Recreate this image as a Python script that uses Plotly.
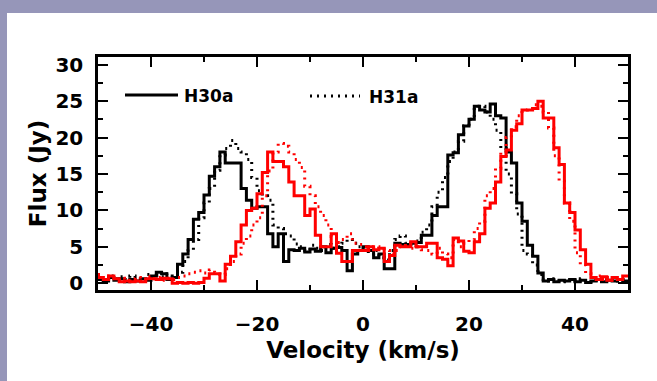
import numpy as np
import plotly.graph_objects as go

# Bin left edges (km/s), 1 km/s channels from -50 to 49
vel_edges = list(range(-50, 50))

h30_black = [0.5, 0.3, 0.8, 0.4, 0.6, 0.2, 0.5, 0.3, 0.6, 0.4,
             1.0, 1.5, 1.3, 0.5, 0.8, 2.6, 4.0, 6.0, 8.8, 9.7,
             12.1, 14.7, 16.0, 18.0, 16.5, 16.5, 16.5, 13.0, 11.4, 10.3,
             10.5, 10.5, 6.8, 5.0, 6.8, 3.0, 4.6, 4.5, 4.8, 4.3,
             4.7, 4.4, 5.0, 4.2, 4.8, 4.9, 4.5, 1.7, 4.0, 4.5,
             5.0, 4.5, 3.5, 4.0, 2.0, 2.0, 5.5, 5.3, 5.3, 5.5,
             5.6, 6.6, 6.6, 9.3, 10.5, 10.5, 17.6, 17.9, 20.4, 21.6,
             22.5, 24.3, 23.8, 23.5, 24.6, 23.0, 22.7, 18.0, 16.5, 11.0,
             8.5, 5.2, 3.7, 1.4, 0.3, 0.5, 0.2, 0.4, 0.3, 0.5,
             0.2, 0.4, 0.1, 0.3, 0.5, 0.2, 0.4, 0.3, 0.5, 0.3]

h31_black = [0.8, 0.4, 1.0, 0.6, 0.9, 0.5, 1.0, 0.7, 0.5, 1.2,
             0.8, 1.1, 0.9, 1.3, 1.0, 1.5, 3.0, 4.5, 6.0, 9.0,
             11.0, 13.0, 15.5, 17.6, 18.5, 19.6, 18.5, 18.0, 17.0, 14.5,
             12.7, 12.0, 11.4, 8.0, 7.5, 6.8, 6.5, 5.4, 5.0, 4.5,
             5.2, 4.8, 4.5, 5.3, 4.8, 5.0, 5.5, 6.0, 5.5, 5.0,
             4.6, 4.0, 4.5, 3.5, 3.2, 4.5, 6.0, 6.5, 5.5, 5.0,
             5.8, 7.0, 8.0, 10.5, 12.5, 14.5, 16.7, 18.0, 19.5, 21.6,
             22.5, 24.3, 24.3, 23.5, 22.5, 21.0, 18.5, 15.0, 12.3, 9.5,
             4.5, 4.0, 2.5, 1.2, 0.5, 0.3, 0.6, 0.2, 0.5, 0.4,
             0.3, 0.6, 0.2, 0.4, 0.5, 0.3, 0.6, 0.4, 0.3, 0.5]

h30_red = [0.8, 0.5, 1.0, 0.6, 0.2, 0.3, 0.2, 0.3, 0.2, 0.6,
           0.6, 0.5, 0.7, 0.6, 0.0, 0.1, 0.0, 0.1, 0.0, 0.1,
           0.7, 1.3, 1.3, 0.3, 2.6, 3.7, 5.7, 8.0, 10.0, 10.3,
           12.3, 15.2, 18.0, 16.7, 16.7, 16.0, 13.9, 12.0, 12.0, 9.3,
           10.2, 6.6, 5.0, 5.0, 6.8, 4.1, 3.0, 3.0, 4.5, 4.5,
           4.5, 5.0, 4.6, 4.8, 3.0, 3.8, 5.2, 5.0, 5.0, 5.7,
           5.0, 5.0, 5.5, 5.5, 3.5, 3.3, 2.4, 6.2, 5.8, 4.4,
           4.2, 5.7, 6.8, 10.3, 11.0, 13.9, 17.4, 18.3, 21.0, 21.9,
           23.8, 23.8, 24.0, 25.0, 22.7, 22.7, 18.6, 16.3, 11.0, 9.7,
           7.3, 4.6, 2.6, 0.8, 0.5, 0.9, 0.4, 0.8, 0.5, 1.0]

h31_red = [1.2, 0.8, 1.0, 0.5, 0.7, 0.4, 0.6, 0.8, 0.5, 0.9,
           0.6, 0.8, 0.4, 0.7, 0.5, 0.8, 1.0, 1.3, 1.5, 1.7,
           1.4, 1.8, 1.5, 1.2, 2.0, 3.0, 4.0, 5.5, 6.5, 8.0,
           9.0, 12.0, 15.4, 18.0, 19.2, 18.8, 18.0, 17.0, 15.9, 13.3,
           12.0, 10.5, 9.3, 8.0, 6.4, 5.6, 6.0, 6.8, 5.5, 5.3,
           5.0, 4.5, 5.0, 4.7, 4.5, 4.0, 4.5, 5.0, 5.5, 4.8,
           5.0, 4.6, 4.5, 4.0, 4.8, 4.0, 3.5, 6.0, 5.0, 5.5,
           6.0, 7.5, 8.5, 12.0, 13.0, 15.8, 18.0, 20.0, 21.5, 23.0,
           23.8, 24.0, 24.5, 24.3, 23.5, 21.3, 17.5, 14.0, 11.0, 8.5,
           4.2, 2.5, 1.3, 0.8, 1.0, 0.5, 0.8, 0.4, 0.7, 0.5]

x_ticks = [-40, -20, 0, 20, 40]
y_ticks = [0, 5, 10, 15, 20, 25, 30]
legend_labels = ["H30a", "H31a"]

FONT = "DejaVu Sans"
W, H = 657, 381
ML, MR, MT, MB = 98, 29, 57, 91
PW, PH = W - ML - MR, H - MT - MB


def steps(vals):
    xs = vel_edges + [vel_edges[-1] + 1]
    ys = list(vals) + [vals[-1]]
    return xs, ys


fig = go.Figure()
series = [
    (h30_black, "black", "solid"),
    (h31_black, "black", "2px,5px"),
    (h30_red, "#ff0000", "solid"),
    (h31_red, "#ff0000", "2px,5px"),
]
for vals, col, dash in series:
    xs, ys = steps(vals)
    fig.add_trace(go.Scatter(x=xs, y=ys, mode="lines", line_shape="hv",
                             line=dict(color=col, width=3, dash=dash),
                             showlegend=False, hoverinfo="skip"))

axis_common = dict(showline=True, linecolor="black", linewidth=2.5, mirror="ticks",
                   ticks="inside", ticklen=10, tickwidth=2, tickcolor="black",
                   showgrid=False, zeroline=False,
                   tickfont=dict(family=FONT, size=20, color="black", weight="bold"))

fig.update_xaxes(range=[-50, 50], tickvals=x_ticks, ticktext=[str(v).replace("-", "\u2212") for v in x_ticks],
                 minor=dict(dtick=10, tick0=0, ticks="inside", ticklen=5, tickwidth=2, tickcolor="black"),
                 title=dict(text="Velocity (km/s)", standoff=8,
                            font=dict(family=FONT, size=23, color="black", weight="bold")),
                 ticklabelstandoff=14,
                 **axis_common)
fig.update_yaxes(range=[-0.93, 31.06], tickvals=y_ticks,
                 minor=dict(dtick=2.5, tick0=0, ticks="inside", ticklen=5, tickwidth=2, tickcolor="black"),
                 title=dict(text="Flux (Jy)", standoff=3,
                            font=dict(family=FONT, size=23, color="black", weight="bold")),
                 ticklabelstandoff=8,
                 **axis_common)


def px2paper_x(px):
    return (px - ML) / PW


def px2paper_y(py):
    return (H - MB - py) / PH


shapes = [
    # page border bands
    dict(type="rect", xref="paper", yref="paper", layer="below",
         x0=px2paper_x(0), x1=px2paper_x(W), y0=px2paper_y(13), y1=px2paper_y(0),
         fillcolor="#9696b9", line=dict(width=0)),
    dict(type="rect", xref="paper", yref="paper", layer="below",
         x0=px2paper_x(0), x1=px2paper_x(7), y0=px2paper_y(H), y1=px2paper_y(0),
         fillcolor="#9696b9", line=dict(width=0)),
    # legend samples
    dict(type="line", xref="paper", yref="paper",
         x0=px2paper_x(125), x1=px2paper_x(178), y0=px2paper_y(95), y1=px2paper_y(95),
         line=dict(color="black", width=3)),
    dict(type="line", xref="paper", yref="paper",
         x0=px2paper_x(310), x1=px2paper_x(360), y0=px2paper_y(96), y1=px2paper_y(96),
         line=dict(color="black", width=3, dash="2px,5px")),
]
annotations = [
    dict(text=legend_labels[0], xref="paper", yref="paper", x=px2paper_x(182), y=px2paper_y(96),
         xanchor="left", yanchor="middle", showarrow=False,
         font=dict(family=FONT, size=17, color="black", weight="bold")),
    dict(text=legend_labels[1], xref="paper", yref="paper", x=px2paper_x(367), y=px2paper_y(97),
         xanchor="left", yanchor="middle", showarrow=False,
         font=dict(family=FONT, size=17, color="black", weight="bold")),
]

fig.update_layout(width=W, height=H, margin=dict(l=ML, r=MR, t=MT, b=MB),
                  paper_bgcolor="white", plot_bgcolor="white",
                  shapes=shapes, annotations=annotations, showlegend=False)

fig.write_html("out.html")
